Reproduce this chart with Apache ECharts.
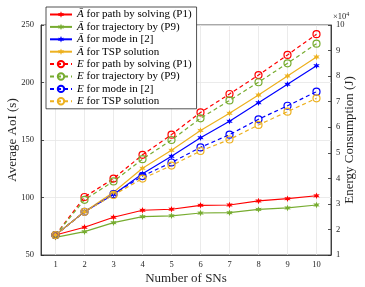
<!DOCTYPE html>
<html>
<head>
<meta charset="utf-8">
<script src="https://cdn.jsdelivr.net/npm/echarts@6/dist/echarts.min.js"></script>
<style>html,body{margin:0;padding:0;background:#fff;}#c{width:365px;height:287px;}</style>
</head>
<body>
<div id="c"></div>
<script>
const xLabels = ['1','2','3','4','5','6','7','8','9','10'];
const aPathP1 = [67.4, 74.1, 82.8, 88.9, 89.8, 93.2, 93.5, 97.0, 99.0, 101.5];
const aTrajP9 = [65.4, 70.3, 78.1, 83.3, 84.1, 86.5, 86.8, 89.6, 90.9, 93.5];
const aMode2  = [67.4, 87.7, 102.6, 120.7, 135.8, 152.0, 166.3, 182.4, 198.4, 214.6];
const aTSP    = [67.4, 87.7, 104.6, 125.4, 141.0, 158.3, 173.2, 189.1, 205.7, 222.2];
const ePathP1 = [1.78, 3.27, 3.99, 4.92, 5.71, 6.58, 7.30, 8.04, 8.83, 9.64];
const eTrajP9 = [1.78, 3.16, 3.88, 4.75, 5.50, 6.35, 7.05, 7.76, 8.50, 9.27];
const eMode2  = [1.78, 2.69, 3.38, 4.09, 4.62, 5.21, 5.71, 6.31, 6.84, 7.39];
const eTSP    = [1.78, 2.69, 3.35, 3.99, 4.50, 5.07, 5.52, 6.09, 6.61, 7.13];
const leftTicks = [50, 100, 150, 200, 250];
const rightTicks = [1, 10];

const FONT = '"Liberation Serif", serif';
const AX = '#262626';
const RED = '#ff0000', GREEN = '#77ac30', BLUE = '#0000ff', ORANGE = '#edb120';

// asterisk-like star marker
function starPath() {
  let p = '';
  for (let i = 0; i < 12; i++) {
    const r = i % 2 === 0 ? 10 : 4.5;
    const a = Math.PI / 2 + i * Math.PI / 6;
    const x = (10 + r * Math.cos(a)).toFixed(2), y = (10 - r * Math.sin(a)).toFixed(2);
    p += (i === 0 ? 'M' : 'L') + x + ' ' + y + ' ';
  }
  return 'path://' + p + 'Z';
}
const STAR = starPath();

function solid(name, data, c) {
  return {
    name, type: 'line', yAxisIndex: 0, data, color: c,
    symbol: STAR, symbolSize: 6.5, showSymbol: true,
    lineStyle: { color: c, width: 1.2 },
    itemStyle: { color: c },
    emphasis: { disabled: true }, animation: false
  };
}
function dashed(name, data, c) {
  return {
    name, type: 'line', yAxisIndex: 1, data, color: c,
    symbol: 'circle', symbolSize: 7, showSymbol: true,
    lineStyle: { color: c, width: 1.2, type: [4, 3] },
    itemStyle: { color: 'rgba(255,255,255,0)', borderColor: c, borderWidth: 1.2 },
    emphasis: { disabled: true }, animation: false
  };
}

const chart = echarts.init(document.getElementById('c'), null, { renderer: 'canvas' });
chart.setOption({
  animation: false,
  backgroundColor: '#fff',
  grid: { left: 41, right: 34, top: 25, bottom: 32, outerBoundsMode: 'none', containLabel: false, show: true, borderColor: AX, borderWidth: 0.8, backgroundColor: 'transparent' },
  legend: {
    orient: 'vertical', left: 46, top: 7,
    backgroundColor: '#fff', borderColor: AX, borderWidth: 0.8,
    padding: [2, 5, 2, 3], itemWidth: 22, itemHeight: 8, itemGap: 1.4,
    z: 10,
    textStyle: {
      fontFamily: FONT, fontSize: 11, color: '#000', lineHeight: 11,
      rich: { i: { fontFamily: FONT, fontSize: 11, fontStyle: 'italic', color: '#000', lineHeight: 11 } }
    },
    formatter: n => '{i|' + n[0] + '}' + n.slice(1)
  },
  xAxis: {
    type: 'category', data: xLabels, boundaryGap: true,
    name: 'Number of SNs', nameLocation: 'middle', nameGap: 17, nameMoveOverlap: false,
    nameTextStyle: { fontFamily: FONT, fontSize: 13, color: AX },
    axisLine: { lineStyle: { color: AX, width: 0.8 } },
    axisTick: { inside: true, length: 3, alignWithLabel: true, lineStyle: { color: AX, width: 0.8 } },
    axisLabel: { fontFamily: FONT, fontSize: 8.5, color: AX, margin: 5 },
    splitLine: { show: true, alignWithLabel: true, lineStyle: { color: '#e6e6e6', width: 0.8 } }
  },
  yAxis: [
    {
      type: 'value', min: leftTicks[0], max: leftTicks[leftTicks.length - 1], interval: 50,
      name: 'Average AoI (s)', nameLocation: 'middle', nameGap: 22, nameRotate: 90, nameMoveOverlap: false,
      nameTextStyle: { fontFamily: FONT, fontSize: 13, color: AX },
      axisLine: { show: true, lineStyle: { color: AX, width: 0.8 } },
      axisTick: { show: true, inside: true, length: 3, lineStyle: { color: AX, width: 0.8 } },
      axisLabel: { fontFamily: FONT, fontSize: 8.5, color: AX, margin: 7 },
      splitLine: { show: true, lineStyle: { color: '#e6e6e6', width: 0.8 } }
    },
    {
      type: 'value', min: rightTicks[0], max: rightTicks[1], interval: 1, position: 'right',
      name: 'Energy Consumption (J)', nameLocation: 'middle', nameGap: 12, nameRotate: 90, nameMoveOverlap: false,
      nameTextStyle: { fontFamily: FONT, fontSize: 13, color: AX },
      axisLine: { show: true, lineStyle: { color: AX, width: 0.8 } },
      axisTick: { show: true, inside: true, length: 3, lineStyle: { color: AX, width: 0.8 } },
      axisLabel: { fontFamily: FONT, fontSize: 8.5, color: AX, margin: 5 },
      splitLine: { show: false }
    }
  ],
  graphic: [{
    type: 'text', left: 333, top: 11, z: 20,
    style: {
      text: '×10{s|4}', fontFamily: FONT, fontSize: 8.5, fill: AX,
      rich: { s: { fontFamily: FONT, fontSize: 6, fill: AX, verticalAlign: 'top', padding: [0, 0, 5, 0] } }
    }
  }],
  series: [
    solid('Ā for path by solving (P1)', aPathP1, RED),
    solid('Ā for trajectory by (P9)', aTrajP9, GREEN),
    solid('Ā for mode in [2]', aMode2, BLUE),
    solid('Ā for TSP solution', aTSP, ORANGE),
    dashed('E for path by solving (P1)', ePathP1, RED),
    dashed('E for trajectory by (P9)', eTrajP9, GREEN),
    dashed('E for mode in [2]', eMode2, BLUE),
    dashed('E for TSP solution', eTSP, ORANGE)
  ]
});
</script>
</body>
</html>
